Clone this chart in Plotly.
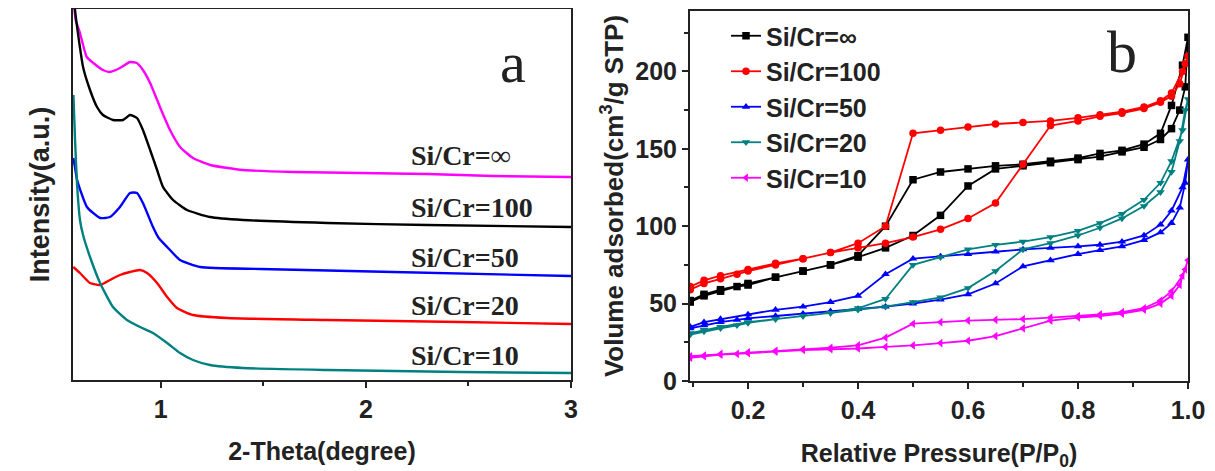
import plotly.graph_objects as go

# ---------------- Panel a: small-angle XRD ----------------
xrd_labels = ["Si/Cr=∞", "Si/Cr=100", "Si/Cr=50", "Si/Cr=20", "Si/Cr=10"]
xrd_colors = ["#ff00ff", "#000000", "#0000ff", "#ff0000", "#008080"]

inf_x = [0.574, 0.585, 0.606, 0.639, 0.671, 0.718, 0.752, 0.801, 0.850, 0.883, 0.913, 0.948,
         0.996, 1.045, 1.094, 1.157, 1.240, 1.401, 1.645, 1.972, 2.299, 2.621, 3.0]
inf_y = [385, 360, 347, 323, 317, 310, 308, 312, 318, 317, 310, 297,
         273, 250, 233, 222, 215, 210, 208, 207, 206, 204, 203]

s100_x = [0.575, 0.582, 0.596, 0.621, 0.655, 0.689, 0.718, 0.767, 0.816, 0.850, 0.884, 0.913,
          0.948, 0.982, 1.011, 1.060, 1.128, 1.240, 1.401, 1.811, 2.299, 3.0]
s100_y = [395, 370, 347, 313, 290, 273, 265, 260, 260, 265, 262, 250,
          230, 210, 193, 180, 170, 163, 160, 157, 155, 153]

s50_x = [0.573, 0.580, 0.592, 0.640, 0.704, 0.752, 0.801, 0.850, 0.884, 0.913, 0.962, 0.990,
         1.031, 1.094, 1.192, 1.484, 2.133, 3.0]
s50_y = [222, 215, 200, 173, 162, 163, 173, 187, 187, 177, 153, 142,
         133, 120, 113, 111, 108, 104]

s20_x = [0.573, 0.606, 0.655, 0.704, 0.752, 0.801, 0.850, 0.899, 0.933, 0.982, 1.031, 1.079,
         1.157, 1.323, 1.811, 2.460, 3.0]
s20_y = [113, 107, 97, 95, 100, 105, 108, 110, 107, 97, 83, 72,
         65, 62, 60, 58, 56]

s10_x = [0.574, 0.582, 0.592, 0.606, 0.621, 0.655, 0.704, 0.767, 0.835, 0.899, 0.962, 1.031,
         1.094, 1.157, 1.240, 1.401, 1.811, 2.460, 3.0]
s10_y = [285, 240, 195, 160, 145, 123, 97, 73, 60, 53, 47, 37,
         27, 20, 15, 12, 10, 8, 7]

xrd_x = [inf_x, s100_x, s50_x, s20_x, s10_x]
xrd_y = [inf_y, s100_y, s50_y, s20_y, s10_y]
label_y = [225, 173, 123, 75, 25]

# ---------------- Panel b: N2 isotherms ----------------
iso_labels = ["Si/Cr=∞", "Si/Cr=100", "Si/Cr=50", "Si/Cr=20", "Si/Cr=10"]
iso_colors = ["#000000", "#ff0000", "#0000ff", "#008080", "#ff00ff"]
iso_symbols = ["square", "circle", "triangle-up", "triangle-down", "triangle-left"]

p_ads = [0.095, 0.12, 0.15, 0.18, 0.2, 0.25, 0.3, 0.35, 0.4, 0.45, 0.5, 0.55, 0.6, 0.65,
         0.7, 0.75, 0.8, 0.84, 0.88, 0.92, 0.95, 0.97, 0.985, 0.995]
p_des = [1.0, 0.99, 0.97, 0.95, 0.92, 0.88, 0.84, 0.8, 0.75, 0.7, 0.65, 0.6, 0.55, 0.5,
         0.45, 0.4, 0.35, 0.3, 0.25, 0.2, 0.15, 0.12, 0.095]

inf_ads = [51, 55, 58, 61, 62, 67, 71, 75, 80, 86, 94, 107, 126, 137,
           139, 141, 143, 145, 148, 151, 156, 163, 175, 190]
inf_des = [222, 204, 178, 160, 153, 149, 147, 144, 142, 140, 139, 137, 135, 130,
           100, 81, 75, 71, 67, 63, 59, 56, 52]

r100_ads = [59, 63, 66, 69, 71, 75, 79, 83, 86, 89, 93, 98, 105, 115,
            140, 165, 168, 171, 173, 176, 180, 184, 192, 205]
r100_des = [210, 200, 186, 181, 177, 174, 172, 170, 168, 167, 166, 164, 162, 160,
            100, 89, 83, 79, 76, 72, 68, 65, 61]

r50_ads = [34, 36, 38, 39.5, 40.5, 42, 43.5, 45, 46.5, 48, 50, 52.5, 56, 63,
           74, 78, 82, 84.5, 87, 91, 96, 102, 112, 128]
r50_des = [143, 125, 110, 101, 94, 90, 88, 87, 86, 85, 83.5, 82, 80.5, 79,
           69, 55, 51, 48, 46, 43, 40, 38, 35]

r20_ads = [30, 32, 34, 36, 37.5, 40, 42, 44, 46, 48, 51, 54, 60, 71,
           85, 89, 94, 99, 105, 113, 122, 135, 155, 175]
r20_des = [182, 162, 142, 128, 117, 108, 102, 97, 93, 90, 88, 85, 80, 75,
           53, 47, 44, 42, 40, 38, 35, 33, 31]

r10_ads = [15, 16, 17, 17.5, 18, 19, 20, 20.5, 21, 22, 23, 24.5, 26, 29,
           34, 39, 41, 42, 43.5, 46, 50, 55, 62, 72]
r10_des = [78, 68, 58, 52, 47, 44.5, 43, 42, 41, 40, 39.5, 39, 38, 37,
           28, 23, 21.5, 20.5, 19.5, 18.5, 17.5, 16.5, 16]

iso_ads = [inf_ads, r100_ads, r50_ads, r20_ads, r10_ads]
iso_des = [inf_des, r100_des, r50_des, r20_des, r10_des]

SANS = "Liberation Sans"
SERIF = "Liberation Serif"

# page body has an 8px default margin; size the figure so it fits the window
OFF = 8
W, H = 1215 - OFF, 471 - OFF


def px(xr):
    return (xr - OFF) / W


def py(yr):
    return (H - (yr - OFF)) / H


fig = go.Figure()

for lab, col, xs, ys in zip(xrd_labels, xrd_colors, xrd_x, xrd_y):
    fig.add_trace(go.Scatter(x=xs, y=ys, mode="lines", name=lab, showlegend=False,
                             line=dict(color=col, width=2.4, shape="spline", smoothing=0.5),
                             xaxis="x", yaxis="y"))

for lab, col, sym, ya, yd in zip(iso_labels, iso_colors, iso_symbols, iso_ads, iso_des):
    fig.add_trace(go.Scatter(x=p_ads + p_des, y=ya + yd, mode="lines+markers", name=lab,
                             line=dict(color=col, width=1.8),
                             marker=dict(symbol=sym, size=7.5, color=col),
                             xaxis="x2", yaxis="y2"))

axis_common = dict(showline=True, linecolor="#222", linewidth=2, mirror=True,
                   showgrid=False, zeroline=False, automargin=False,
                   tickfont=dict(family=SANS, size=25, color="#222", weight="bold"))

fig.update_layout(
    width=W, height=H,
    margin=dict(l=0, r=0, t=0, b=0),
    paper_bgcolor="white", plot_bgcolor="white",
    showlegend=True,
    xaxis=dict(domain=[px(73), px(571)], range=[0.572, 3.0], anchor="y",
               tickmode="linear", tick0=0, dtick=1, ticks="outside", ticklen=6, tickwidth=2,
               tickcolor="#222",
               minor=dict(dtick=0.5, tick0=0, ticks="outside", ticklen=4, tickwidth=1.5, tickcolor="#222"),
               title=dict(text="2-Theta(degree)", standoff=20,
                          font=dict(family=SANS, size=25, color="#222", weight="bold")),
               **axis_common),
    yaxis=dict(domain=[py(380), py(9)], range=[0, 371], anchor="x",
               showticklabels=False, ticks="",
               title=dict(text="Intensity(a.u.)", standoff=14,
                          font=dict(family=SANS, size=27, color="#222", weight="bold")),
               **axis_common),
    xaxis2=dict(domain=[px(690), px(1188)], range=[0.0945, 1.0], anchor="y2",
                tickmode="linear", tick0=0, dtick=0.2, tickformat=".1f", ticks="outside",
                ticklen=6, tickwidth=2, tickcolor="#222",
                minor=dict(dtick=0.1, tick0=0, ticks="outside", ticklen=4, tickwidth=1.5, tickcolor="#222"),
                title=dict(text="Relative Pressure(P/P<sub>0</sub>)", standoff=28,
                           font=dict(family=SANS, size=25, color="#222", weight="bold")),
                **axis_common),
    yaxis2=dict(domain=[py(381), py(11)], range=[0, 239], anchor="x2",
                tickmode="linear", tick0=0, dtick=50, ticks="outside", ticklen=6, tickwidth=2,
                tickcolor="#222",
                minor=dict(dtick=25, tick0=0, ticks="outside", ticklen=4, tickwidth=1.5, tickcolor="#222"),
                title=dict(text="Volume adsorbed(cm<sup>3</sup>/g STP)", standoff=4,
                           font=dict(family=SANS, size=26, color="#222", weight="bold")),
                **axis_common),
    legend=dict(x=px(726), y=py(13), xanchor="left", yanchor="top",
                bgcolor="rgba(0,0,0,0)", borderwidth=0, tracegroupgap=0,
                font=dict(family=SANS, size=25, color="#222", weight="bold")),
)

for lab, ly in zip(xrd_labels, label_y):
    fig.add_annotation(x=2.211, y=ly, xref="x", yref="y", text=lab, showarrow=False,
                       xanchor="left", yanchor="middle",
                       font=dict(family=SERIF, size=28, color="#222", weight="bold"))

fig.add_annotation(x=px(513), y=py(62), xref="paper", yref="paper", text="a",
                   showarrow=False, xanchor="center", yanchor="middle",
                   font=dict(family=SERIF, size=58, color="#222"))
fig.add_annotation(x=px(1122), y=py(52), xref="paper", yref="paper", text="b",
                   showarrow=False, xanchor="center", yanchor="middle",
                   font=dict(family=SERIF, size=60, color="#222"))

fig.write_html("out.html")
